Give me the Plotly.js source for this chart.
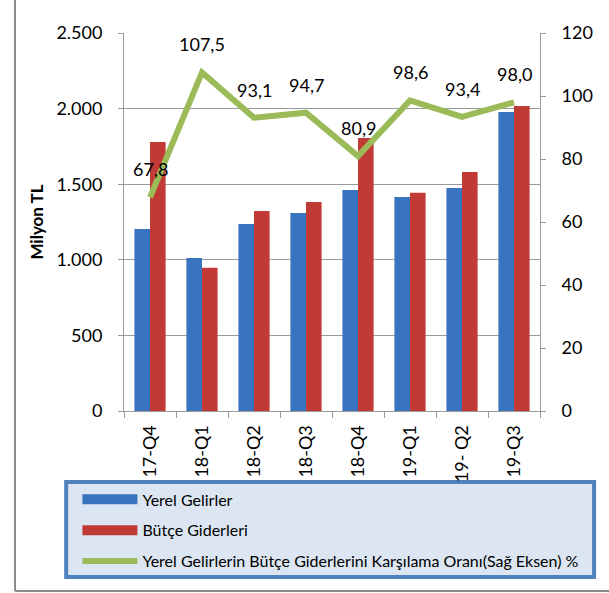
<!DOCTYPE html>
<html>
<head>
<meta charset="utf-8">
<script src="https://cdn.plot.ly/plotly-3.0.1.min.js"></script>
<style>html,body{margin:0;padding:0;background:#fff;}#chart{width:609px;height:593px;}</style>
</head>
<body>
<div id="chart"></div>
<script>
const categories = ['17-Q4', '18-Q1', '18-Q2', '18-Q3', '18-Q4', '19-Q1', '19- Q2', '19-Q3'];
const yerelGelirler = [1204, 1012, 1237, 1310, 1462, 1415, 1475, 1978];
const butceGiderleri = [1779, 948, 1323, 1382, 1806, 1444, 1581, 2017];
const karsilamaOrani = [67.8, 107.5, 93.1, 94.7, 80.9, 98.6, 93.4, 98.0];
const leftTicks = [0, 500, 1000, 1500, 2000, 2500];
const rightTicks = [0, 20, 40, 60, 80, 100, 120];
const seriesNames = ['Yerel Gelirler', 'Bütçe Giderleri', 'Yerel Gelirlerin Bütçe Giderlerini Karşılama Oranı(Sağ Eksen) %'];

const FONT = 'Lato, "Open Sans", sans-serif';
const GRAY = '#9a9a9a';
const BLUE = '#3a74c0', RED = '#c23a36', GREEN = '#9bbb59';

const traces = [
  {
    type: 'bar', name: seriesNames[0], x: categories, y: yerelGelirler,
    marker: {color: BLUE}, legendgroup: 'a', showlegend: false, yaxis: 'y'
  },
  {
    type: 'bar', name: seriesNames[1], x: categories, y: butceGiderleri,
    marker: {color: RED}, legendgroup: 'b', showlegend: false, yaxis: 'y'
  },
  // legend swatches for the bar series (wide rectangles, as in the original)
  {type: 'scatter', mode: 'lines', name: seriesNames[0], x: [null], y: [null],
   legendgroup: 'a', legendrank: 1, line: {color: BLUE, width: 11}, hoverinfo: 'skip'},
  {type: 'scatter', mode: 'lines', name: seriesNames[1], x: [null], y: [null],
   legendgroup: 'b', legendrank: 2, line: {color: RED, width: 11}, hoverinfo: 'skip'},
  {
    type: 'scatter', mode: 'lines', name: seriesNames[2],
    x: categories, y: karsilamaOrani, yaxis: 'y2', legendgroup: 'c', legendrank: 3,
    line: {color: GREEN, width: 6}
  }
];

const annotations = categories.map((c, i) => ({
  x: c, y: karsilamaOrani[i], xref: 'x', yref: 'y2',
  text: karsilamaOrani[i].toFixed(1).replace('.', ','),
  showarrow: false, yshift: 28, font: {family: FONT, size: 18, color: '#000'}
}));

const layout = {
  width: 609, height: 593,
  margin: {l: 124, r: 69, t: 33, b: 182},
  paper_bgcolor: '#fff', plot_bgcolor: '#fff',
  separators: ',.',
  font: {family: FONT, size: 18, color: '#000'},
  barmode: 'group', bargap: 0.4, bargroupgap: 0,
  showlegend: true,
  xaxis: {
    type: 'category', range: [-0.5, 7.5], tickangle: -90,
    ticks: 'outside', tickson: 'boundaries', ticklen: 6, tickcolor: GRAY,
    showline: true, linecolor: GRAY, linewidth: 1, showgrid: false,
    ticklabelstandoff: 6,
    tickfont: {family: FONT, size: 18, color: '#000'}
  },
  yaxis: {
    range: [0, 2500], tickvals: leftTicks, tickformat: ',d',
    ticks: 'outside', ticklen: 5, tickcolor: GRAY,
    showline: true, linecolor: GRAY, linewidth: 1,
    showgrid: true, gridcolor: GRAY, gridwidth: 1, zeroline: false,
    ticklabelstandoff: 12,
    tickfont: {family: FONT, size: 18, color: '#000'},
    title: {text: '<b>Milyon TL</b>', font: {family: FONT, size: 17, color: '#000'}, standoff: 8}
  },
  yaxis2: {
    range: [0, 120], tickvals: rightTicks, overlaying: 'y', side: 'right',
    ticks: 'outside', ticklen: 5, tickcolor: GRAY,
    showline: true, linecolor: GRAY, linewidth: 1, showgrid: false, zeroline: false,
    ticklabelstandoff: 12,
    tickfont: {family: FONT, size: 18, color: '#000'}
  },
  legend: {
    x: -0.112, y: -0.189, xanchor: 'left', yanchor: 'top',
    bgcolor: 'rgba(0,0,0,0)', borderwidth: 0,
    traceorder: 'grouped', tracegroupgap: 7, itemwidth: 55,
    font: {family: FONT, size: 16, color: '#000'}
  },
  shapes: [
    {type: 'rect', xref: 'paper', yref: 'paper', x0: -0.139, x1: 1.130, y0: -0.439, y1: -0.188,
     fillcolor: '#dce6f2', line: {color: '#4f81bd', width: 4}, layer: 'below'},
    {type: 'line', xref: 'paper', yref: 'paper', x0: -0.262, x1: -0.262, y0: 1.1, y1: -0.476,
     line: {color: '#8c8c8c', width: 2}},
    {type: 'line', xref: 'paper', yref: 'paper', x0: -0.262, x1: 1.2, y0: -0.476, y1: -0.476,
     line: {color: '#8c8c8c', width: 2}}
  ],
  annotations: annotations
};

Plotly.newPlot('chart', traces, layout, {displayModeBar: false, staticPlot: true});
</script>
</body>
</html>
